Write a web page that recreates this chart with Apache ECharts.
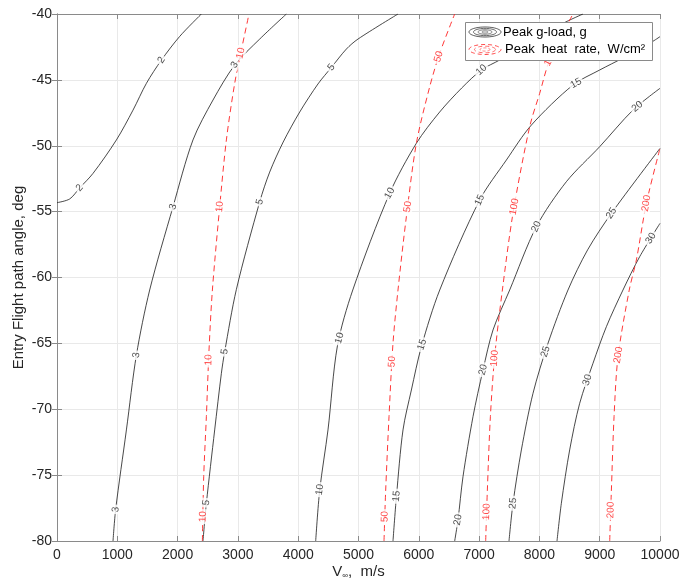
<!DOCTYPE html>
<html><head><meta charset="utf-8">
<script src="https://cdn.jsdelivr.net/npm/echarts@6/dist/echarts.min.js"></script>
<style>html,body{margin:0;padding:0;background:#fff}#c{width:681px;height:582px}</style>
</head><body><div id="c"></div>
<script>
// ---- axis ranges / ticks ----
const xMin = 0, xMax = 10000, xStep = 1000;
const yMin = -80, yMax = -40, yStep = 5;

// ---- Peak g-load contours: [V (m/s), gamma (deg)] ----
const g2 = [[0,-54.32],[210,-54.04],[376,-53.2],[597,-52.1],[985,-49.56],[1260,-47.3],[1483,-45.26],[1731,-43.5],[2035,-41.7],[2395,-40]];
const g3 = [[929,-80],[973,-77.6],[1151,-71.57],[1317,-65.88],[1537,-60.95],[1924,-54.63],[2255,-49.56],[2587,-46.53],[2947,-43.87],[3362,-41.9],[3804,-40]];
const g5 = [[2421,-80],[2477,-77.14],[2615,-71.57],[2726,-67.27],[2781,-65.63],[2975,-60.9],[3362,-54.25],[3527,-52.0],[3751,-49.72],[4025,-47.44],[4328,-45.31],[4551,-44.05],[4799,-42.66],[4992,-41.9],[5655,-40]];
const g10 = [[4290,-80],[4357,-76.13],[4494,-71.57],[4650,-65.2],[4905,-60.95],[5517,-53.61],[5960,-49.81],[6346,-47.44],[6711,-45.62],[7038,-44.25],[7342,-43.49],[7839,-42.13],[8391,-40.71],[8723,-40]];
const g15 = [[5572,-80],[5629,-76.63],[5738,-71.57],[5877,-68.54],[6043,-65.25],[6347,-60.95],[7010,-54.12],[7453,-51.08],[7867,-48.43],[8557,-45.39],[9000,-44.25],[9386,-43.34],[9862,-42.13],[10000,-41.72]];
const g20 = [[6595,-80],[6650,-78.4],[6733,-75.12],[6899,-70.56],[7065,-67.02],[7231,-63.98],[7507,-60.95],[7950,-56.14],[8447,-52.73],[9000,-50.07],[9552,-47.29],[10000,-45.64]];
const g25 = [[7496,-80],[7562,-77.14],[7701,-73.09],[7894,-68.79],[8143,-64.99],[8474,-60.95],[8800,-57.9],[9194,-55.13],[10000,-50.2]];
const g30 = [[8292,-80],[8364,-77.14],[8502,-73.09],[8668,-69.55],[8889,-66.51],[9111,-63.73],[9386,-60.95],[9663,-58.42],[10000,-55.89]];

// ---- Peak heat rate contours (W/cm^2) ----
const h10 = [[2411,-80],[2433,-75.12],[2477,-70.56],[2521,-65.5],[2577,-60.95],[2698,-54.63],[2809,-49.56],[2947,-45.26],[3058,-42.73],[3184,-40]];
const h50 = [[5423,-80],[5451,-76.13],[5506,-70.56],[5572,-64.99],[5655,-60.95],[5794,-55.38],[5960,-49.81],[6181,-45.52],[6347,-42.98],[6595,-40]];
const h100 = [[7109,-80],[7137,-76.13],[7187,-70.56],[7258,-66.01],[7386,-60.95],[7562,-55.13],[7839,-48.55],[8005,-46.02],[8171,-43.49],[8557,-40]];
const h200 = [[9166,-80],[9194,-76.13],[9238,-70.56],[9304,-66.01],[9490,-60.95],[9608,-58.67],[9774,-54.37],[10000,-50.2]];

// ---- contour label positions (gamma where label sits on each contour) ----
const g2Labels = [-53.2, -43.5];
const g3Labels = [-77.6, -65.9, -54.63, -43.87];
const g5Labels = [-77.1, -65.63, -54.25, -44.05];
const g10Labels = [-76.1, -64.6, -53.6, -44.25];
const g15Labels = [-76.6, -65.1, -54.12, -45.26];
const g20Labels = [-78.4, -67.0, -56.14, -47.03];
const g25Labels = [-77.14, -65.63, -55.13];
const g30Labels = [-67.78, -57.03];
const h10Labels = [-78.15, -66.26, -54.63, -42.98];
const h50Labels = [-78.15, -66.39, -54.63, -43.24];
const h100Labels = [-77.78, -66.13, -54.63, -43.35];
const h200Labels = [-77.65, -65.88, -54.37];

const gLevels = ['2','3','5','10','15','20','25','30'];
const gLines = [g2,g3,g5,g10,g15,g20,g25,g30];
const gLabelSets = [g2Labels,g3Labels,g5Labels,g10Labels,g15Labels,g20Labels,g25Labels,g30Labels];
const hLevels = ['10','50','100','200'];
const hLines = [h10,h50,h100,h200];
const hLabelSets = [h10Labels,h50Labels,h100Labels,h200Labels];

const FONT = '"Liberation Sans", Arial, Helvetica, sans-serif';
const chart = echarts.init(document.getElementById('c'), null, {renderer:'canvas'});

const series = [];
gLines.forEach((d,i)=>series.push({name:'g'+gLevels[i],type:'line',data:d,showSymbol:false,smooth:0.3,z:2,silent:true,
  lineStyle:{color:'#1a1a1a',width:0.8}}));
hLines.forEach((d,i)=>series.push({name:'h'+hLevels[i],type:'line',data:d,showSymbol:false,smooth:0.3,z:2,silent:true,
  lineStyle:{color:'#ff2020',width:0.9,type:[6,4]}}));
series.push({id:'gLab',type:'scatter',symbolSize:0,z:5,silent:true,data:[],
  label:{show:true,position:'inside',fontSize:10,fontFamily:FONT,color:'#1a1a1a',backgroundColor:'#fff',padding:[0,2]}});
series.push({id:'hLab',type:'scatter',symbolSize:0,z:5,silent:true,data:[],
  label:{show:true,position:'inside',fontSize:10,fontFamily:FONT,color:'#ff1a1a',backgroundColor:'#fff',padding:[0,2]}});

const axisCol = '#8a8a8a';
const ellipse = (cx,cy,rx,ry)=>{const p=[];for(let k=0;k<=48;k++){const t=k/48*2*Math.PI;p.push([cx+rx*Math.cos(t),cy+ry*Math.sin(t)]);}return p;};

const option = {
  animation:false,
  backgroundColor:'#fff',
  grid:{left:57,right:21,top:14,bottom:41,containLabel:false,outerBoundsMode:'none'},
  xAxis:[{type:'value',min:xMin,max:xMax,interval:xStep,position:'bottom',
      name:'{a|V}{b|∞}{a|,  m/s}',nameLocation:'middle',nameGap:22,nameMoveOverlap:false,
      nameTextStyle:{rich:{a:{fontSize:15,fontFamily:FONT,color:'#262626'},b:{fontSize:8,fontFamily:FONT,color:'#262626',padding:[9,0,0,0]}}},
      axisLine:{show:true,lineStyle:{color:axisCol,width:1}},
      axisTick:{show:true,inside:true,length:5,lineStyle:{color:axisCol}},
      axisLabel:{fontSize:14,fontFamily:FONT,color:'#262626',margin:7,formatter:v=>String(v)},
      splitLine:{show:true,lineStyle:{color:'#e9e9e9',width:1}}},
    {type:'value',min:xMin,max:xMax,interval:xStep,position:'top',
      axisLine:{show:true,lineStyle:{color:axisCol,width:1}},
      axisTick:{show:true,inside:true,length:5,lineStyle:{color:axisCol}},
      axisLabel:{show:false},splitLine:{show:false}}],
  yAxis:[{type:'value',min:yMin,max:yMax,interval:yStep,position:'left',
      name:'Entry Flight path angle, deg',nameLocation:'middle',nameGap:31,nameRotate:90,nameMoveOverlap:false,
      nameTextStyle:{fontSize:15,fontFamily:FONT,color:'#262626'},
      axisLine:{show:true,lineStyle:{color:axisCol,width:1}},
      axisTick:{show:true,inside:true,length:5,lineStyle:{color:axisCol}},
      axisLabel:{fontSize:14,fontFamily:FONT,color:'#262626',margin:5},
      splitLine:{show:true,lineStyle:{color:'#e9e9e9',width:1}}},
    {type:'value',min:yMin,max:yMax,interval:yStep,position:'right',
      axisLine:{show:true,lineStyle:{color:axisCol,width:1}},
      axisTick:{show:true,inside:true,length:5,lineStyle:{color:axisCol}},
      axisLabel:{show:false},splitLine:{show:false}}],
  series:series,
  graphic:[{type:'group',z:100,children:[
    {type:'rect',shape:{x:465.5,y:22.5,width:187,height:38},style:{fill:'#fff',stroke:'#8a8a8a',lineWidth:1},z:100},
    {type:'polyline',shape:{points:ellipse(485,32,16,5)},style:{fill:null,stroke:'#333',lineWidth:0.8},z:101},
    {type:'polyline',shape:{points:ellipse(485,32,11.5,3.6)},style:{fill:null,stroke:'#444',lineWidth:0.8},z:101},
    {type:'polyline',shape:{points:ellipse(485,32,7,2.2)},style:{fill:null,stroke:'#555',lineWidth:0.8},z:101},
    {type:'polyline',shape:{points:ellipse(485,32,3,1)},style:{fill:null,stroke:'#666',lineWidth:0.8},z:101},
    {type:'polyline',shape:{points:ellipse(485,49.5,16,5)},style:{fill:null,stroke:'#ff2020',lineWidth:0.8,lineDash:[4,3]},z:101},
    {type:'polyline',shape:{points:ellipse(485,49.5,10.5,3.3)},style:{fill:null,stroke:'#ff4040',lineWidth:0.8,lineDash:[4,3]},z:101},
    {type:'polyline',shape:{points:ellipse(485,49.5,5,1.6)},style:{fill:null,stroke:'#ff6060',lineWidth:0.8,lineDash:[3,2]},z:101},
    {type:'text',x:503,y:32,style:{text:'Peak g-load, g',fontSize:13,fontFamily:FONT,fill:'#000',textVerticalAlign:'middle',verticalAlign:'middle'},z:101},
    {type:'text',x:505,y:49.5,style:{text:'Peak  heat  rate,  W/cm²',fontSize:13,fontFamily:FONT,fill:'#000',textVerticalAlign:'middle',verticalAlign:'middle'},z:101}
  ]}]
};
chart.setOption(option);

function placeLabels(lines, levels, labelSets){
  const out = [];
  lines.forEach((line, li)=>{
    labelSets[li].forEach(gam=>{
      for(let i=0;i<line.length-1;i++){
        const a=line[i], b=line[i+1];
        const lo=Math.min(a[1],b[1]), hi=Math.max(a[1],b[1]);
        if(gam>=lo && gam<=hi && hi>lo){
          const t=(gam-a[1])/(b[1]-a[1]);
          const v=a[0]+t*(b[0]-a[0]);
          const p1=chart.convertToPixel({xAxisIndex:0,yAxisIndex:0},a);
          const p2=chart.convertToPixel({xAxisIndex:0,yAxisIndex:0},b);
          let ang=Math.atan2(p1[1]-p2[1], p2[0]-p1[0])*180/Math.PI;
          if(ang>90) ang-=180; if(ang<-90) ang+=180;
          out.push({value:[v,gam],label:{formatter:levels[li],rotate:ang}});
          break;
        }
      }
    });
  });
  return out;
}
chart.setOption({series:[{id:'gLab',data:placeLabels(gLines,gLevels,gLabelSets)},{id:'hLab',data:placeLabels(hLines,hLevels,hLabelSets)}]});
</script></body></html>
